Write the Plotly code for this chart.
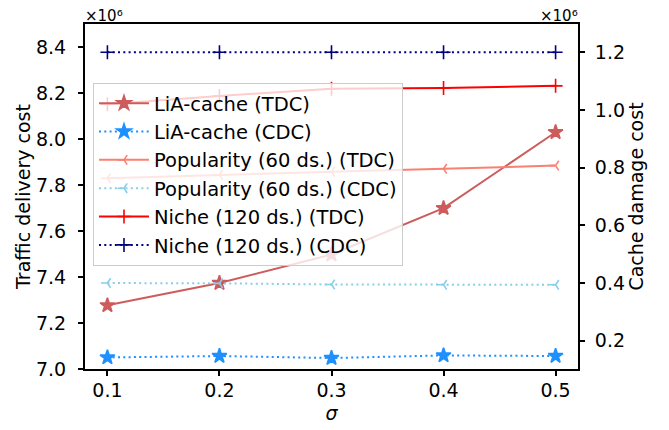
import plotly.graph_objects as go

# sigma values (x axis)
sigma = [0.1, 0.2, 0.3, 0.4, 0.5]

# Traffic delivery cost (TDC), in units of 1e6 -> left axis
lia_tdc = [7.277, 7.374, 7.498, 7.700, 8.030]
pop_tdc = [7.830, 7.845, 7.858, 7.871, 7.885]
niche_tdc = [8.152, 8.188, 8.219, 8.223, 8.232]

# Cache damage cost (CDC), in units of 1e6 -> right axis
lia_cdc = [0.142, 0.147, 0.140, 0.149, 0.147]
pop_cdc = [0.400, 0.399, 0.395, 0.394, 0.394]
niche_cdc = [1.200, 1.200, 1.200, 1.200, 1.200]

left_ticks = [7.0, 7.2, 7.4, 7.6, 7.8, 8.0, 8.2, 8.4]
right_ticks = [0.2, 0.4, 0.6, 0.8, 1.0, 1.2]
x_ticks = [0.1, 0.2, 0.3, 0.4, 0.5]

FONT = "DejaVu Sans"
FS = 19
LFS = 19.5
DOT = "2px,3.3px"

fig = go.Figure()

series = [
    ("LiA-cache (TDC)", lia_tdc, "y", "#CD5C5C", "solid", "star", 11),
    ("LiA-cache (CDC)", lia_cdc, "y2", "#1E90FF", DOT, "star", 11),
    ("Popularity (60 ds.) (TDC)", pop_tdc, "y", "#FA8072", "solid", "y-left-open", 8),
    ("Popularity (60 ds.) (CDC)", pop_cdc, "y2", "#87CEEB", DOT, "y-left-open", 8),
    ("Niche (120 ds.) (TDC)", niche_tdc, "y", "#FF0000", "solid", "cross-thin-open", 10),
    ("Niche (120 ds.) (CDC)", niche_cdc, "y2", "#000080", DOT, "cross-thin-open", 10),
]

for i, (name, vals, yax, col, dash, sym, sz) in enumerate(series):
    fig.add_trace(go.Scatter(
        x=sigma, y=vals, name=name, yaxis=yax, mode="lines+markers",
        line=dict(color=col, width=2, dash=dash),
        marker=dict(symbol=sym, size=sz, color=col, line=dict(color=col, width=1.6)),
        legendgroup=f"g{i}",
    ))

axis_common = dict(
    showline=True, linecolor="black", linewidth=2,
    ticks="outside", ticklen=5, tickwidth=1.5, tickcolor="black",
    showgrid=False, zeroline=False, automargin=False,
    tickfont=dict(family=FONT, size=FS, color="black"),
)

# page body has an 8px default margin: figure sized / offset to compensate
fig.update_layout(
    width=661, height=422,
    margin=dict(l=77, r=91, t=16, b=61),
    paper_bgcolor="white", plot_bgcolor="white",
    font=dict(family=FONT, size=FS, color="black"),
    xaxis=dict(range=[0.08, 0.52], tickvals=x_ticks, tickformat=".1f", mirror=True,
               ticklabelstandoff=-2,
               title=dict(text="<i>σ</i>", font=dict(family=FONT, size=FS), standoff=7),
               **axis_common),
    yaxis=dict(range=[7.0, 8.501], tickvals=left_ticks, tickformat=".1f",
               ticklabelstandoff=8,
               title=dict(text="Traffic delivery cost", font=dict(family=FONT, size=FS), standoff=0),
               **axis_common),
    yaxis2=dict(range=[0.102, 1.298], tickvals=right_ticks, tickformat=".1f",
                overlaying="y", side="right", ticklabelstandoff=6,
                title=dict(text="Cache damage cost", font=dict(family=FONT, size=FS), standoff=1),
                **axis_common),
    legend=dict(
        x=0.0162, y=0.829, xanchor="left", yanchor="top",
        bgcolor="rgba(255,255,255,0.8)", bordercolor="#cccccc", borderwidth=1,
        font=dict(family=FONT, size=LFS, color="black"),
        tracegroupgap=0, itemwidth=50,
    ),
    showlegend=True,
)

OFS = 15
fig.add_annotation(text="×10⁶", xref="paper", yref="paper", x=0, y=1,
                   xanchor="left", yanchor="bottom", showarrow=False, borderpad=0,
                   font=dict(family=FONT, size=OFS, color="black"), yshift=-2, xshift=-1)
fig.add_annotation(text="×10⁶", xref="paper", yref="paper", x=1, y=1,
                   xanchor="right", yanchor="bottom", showarrow=False, borderpad=0,
                   font=dict(family=FONT, size=OFS, color="black"), yshift=-2, xshift=1)

fig.write_html("out.html")
